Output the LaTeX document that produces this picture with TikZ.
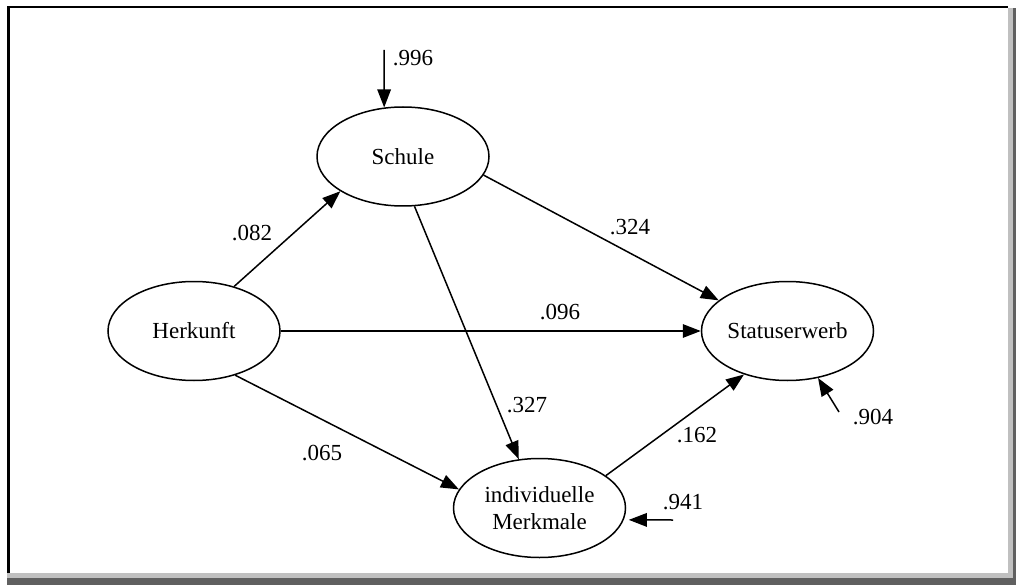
\documentclass[tikz,border=0pt]{standalone}
\usepackage{fontspec}
\setmainfont{Liberation Serif}
\newfontfamily\refserif{Liberation Serif}
\usetikzlibrary{shapes.geometric,arrows.meta}
\definecolor{shadelight}{HTML}{C0C0C0}
\definecolor{shadedark}{HTML}{606060}
\tikzset{
  latent/.style={ellipse, draw, line width=1.5pt, minimum width=172pt, minimum height=99pt, inner sep=0pt, align=center, font=\refserif\fontsize{23}{26.5}\selectfont},
  arr/.style={line width=1.5pt, -{Triangle[length=18pt,width=13.5pt]}},
  coef/.style={font=\refserif\fontsize{23}{26}\selectfont, inner sep=0pt}
}
\begin{document}
\begin{tikzpicture}[x=1pt,y=-1pt]
\useasboundingbox (0,0) rectangle (1016,585);
% frame
\fill[black] (7,6) rectangle (1008,8.5);
\fill[black] (7,6) rectangle (9.5,573);
\fill[shadelight] (1008,8) rectangle (1012.5,578);
\fill[shadelight] (7,573) rectangle (1012.5,578);
\fill[shadedark] (1012.5,8) rectangle (1016,585);
\fill[shadedark] (7,578) rectangle (1016,585);
% nodes
\node[latent] (h) at (194,331) {Herkunft};
\node[latent] (s) at (403,156.5) {Schule};
\node[latent] (st) at (787.5,331) {Statuserwerb};
\node[latent] (m) at (539.5,508) {individuelle\\Merkmale};
% paths
\draw[arr] (h.48) -- (s.209);
\draw[arr] (s.-13) -- (st.156);
\draw[arr] (h.east) -- (st.west);
\draw[arr] (s.-77) -- (m.113);
\draw[arr] (h.-47) -- (m.167);
\draw[arr] (m.26) -- (st.225);
% error terms
\coordinate (e1) at (384,50);
\coordinate (e2) at (839,412);
\coordinate (e3) at (673,520);
\draw[arr] (e1) -- (s.111);
\draw[arr] (e2) -- (st.-57);
\draw[arr, shorten >=5pt] (e3) -- (m.-8);
% labels
\node[coef] (l1) at (413,58) {.996};
\node[coef] (l2) at (252,233) {.082};
\node[coef] (l3) at (630,227) {.324};
\node[coef] (l4) at (560,312) {.096};
\node[coef] (l5) at (527,405) {.327};
\node[coef] (l6) at (697,435) {.162};
\node[coef] (l7) at (322,453) {.065};
\node[coef] (l8) at (873,417) {.904};
\node[coef] (l9) at (683,502) {.941};
\end{tikzpicture}
\end{document}
